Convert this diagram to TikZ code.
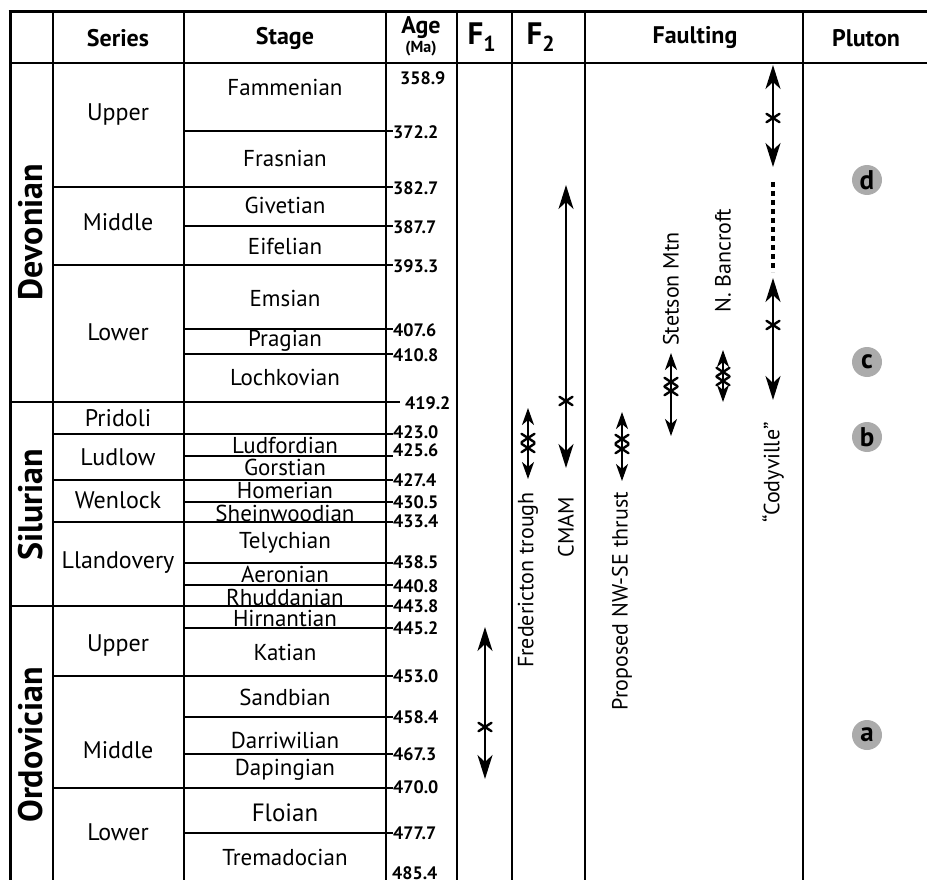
\documentclass[tikz,border=0pt]{standalone}
\usepackage{fontspec}
\setmainfont{PT Sans}
\usetikzlibrary{arrows.meta}
\begin{document}
\begin{tikzpicture}[x=1pt,y=-1pt,
  thickln/.style={line width=3pt},
  colln/.style={line width=2.3pt},
  perln/.style={line width=2.6pt},
  thinln/.style={line width=1.3pt},
  hdr/.style={font=\bfseries\fontsize{24}{26}\selectfont, inner sep=0pt},
  stg/.style={font=\fontsize{23}{25}\selectfont, inner sep=0pt},
  ser/.style={font=\fontsize{24}{26}\selectfont, inner sep=0pt},
  per/.style={font=\bfseries\fontsize{34}{36}\selectfont, inner sep=0pt, rotate=90},
  agel/.style={font=\bfseries\fontsize{18}{19}\selectfont, inner sep=0pt, anchor=west},
  lab/.style={font=\fontsize{22}{24}\selectfont, inner sep=0pt, rotate=90},
  bigarrow/.style={line width=2.2pt, {Stealth[length=24pt,width=15pt,inset=7pt]}-{Stealth[length=24pt,width=15pt,inset=7pt]}},
  smallarrow/.style={line width=2.2pt, {Stealth[length=17pt,width=12pt,inset=5pt]}-{Stealth[length=17pt,width=12pt,inset=5pt]}},
  astr/.pic={\draw[line width=2.4pt, line cap=round] (-6.5,-4.2)--(6.5,4.2) (-6.5,4.2)--(6.5,-4.2);},
  pluton/.style={circle, fill=black!33, inner sep=0pt, minimum size=30pt, font=\bfseries\fontsize{27}{27}\selectfont}
]
\useasboundingbox (0,0) rectangle (927,880);
% ---- grid ----
\foreach \x in {53,184,386,457,512,585,803} \draw[colln] (\x,12) -- (\x,880);
\draw[thickln] (10,10.5) -- (10,880);
\draw[thickln] (8.5,12) -- (927,12);
\draw[perln] (10,63) -- (927,63);
% stage boundaries
\foreach \y in {131,226,329,354,456,502,563,585,628,717,754,833} \draw[thinln] (184,\y) -- (393,\y);
% series boundaries
\foreach \y in {187,265,434,480,522,676,788} \draw[thinln] (53,\y) -- (393,\y);
% period boundaries
\draw[perln] (10,402) -- (386,402);
\draw[thinln] (386,402) -- (400,402);
\draw[perln] (10,606) -- (386,606);
\draw[thinln] (386,606) -- (393,606);
% ---- header ----
\node[hdr] (hser) at (118,38) {Series};
\node[hdr] (hstg) at (285,38) {Stage};
\node[hdr, font=\bfseries\fontsize{24}{24}\selectfont] (hage) at (421,28) {Age};
\node[hdr, font=\bfseries\fontsize{16}{16}\selectfont] (hma) at (421,49) {(Ma)};
\node[hdr, font=\bfseries\fontsize{31}{31}\selectfont] (hf1) at (482,37) {F\textsubscript{1}};
\node[hdr, font=\bfseries\fontsize{31}{31}\selectfont] (hf2) at (541,37) {F\textsubscript{2}};
\node[hdr] (hflt) at (695,38) {Faulting};
\node[hdr] (hplu) at (866,38) {Pluton};
% ---- periods ----
\node[per] (pdev) at (31,232) {Devonian};
\node[per] (psil) at (31,505) {Silurian};
\node[per] (pord) at (31,745) {Ordovician};
% ---- series ----
\node[ser] (s1) at (118,115) {Upper};
\node[ser] (s2) at (118,222) {Middle};
\node[ser] (s3) at (118,332) {Lower};
\node[ser] (s4) at (118,418) {Pridoli};
\node[ser] (s5) at (118,457) {Ludlow};
\node[ser] (s6) at (118,500) {Wenlock};
\node[ser] (s7) at (118,563) {Llandovery};
\node[ser] (s8) at (118,645) {Upper};
\node[ser] (s9) at (118,750) {Middle};
\node[ser] (s10) at (118,832) {Lower};
% ---- stages ----
\node[stg] (t1) at (285,87) {Fammenian};
\node[stg] (t2) at (285,158) {Frasnian};
\node[stg] (t3) at (285,205) {Givetian};
\node[stg] (t4) at (285,246) {Eifelian};
\node[stg] (t5) at (285,298) {Emsian};
\node[stg] (t6) at (285,341) {Pragian};
\node[stg] (t7) at (285,377) {Lochkovian};
\node[stg] (t8) at (285,445) {Ludfordian};
\node[stg] (t9) at (285,467) {Gorstian};
\node[stg] (t10) at (285,490) {Homerian};
\node[stg] (t11) at (285,513) {Sheinwoodian};
\node[stg] (t12) at (285,543) {Telychian};
\node[stg] (t13) at (285,574) {Aeronian};
\node[stg] (t14) at (285,597) {Rhuddanian};
\node[stg] (t15) at (285,618) {Hirnantian};
\node[stg] (t16) at (285,652) {Katian};
\node[stg] (t17) at (285,697) {Sandbian};
\node[stg] (t18) at (285,740) {Darriwilian};
\node[stg] (t19) at (285,770) {Dapingian};
\node[stg, font=\fontsize{25}{27}\selectfont] (t20) at (285,813) {Floian};
\node[stg] (t21) at (285,857) {Tremadocian};
% ---- ages ----
\node[agel] (a1) at (400,78) {358.9};
\node[agel] (a2) at (393,132) {372.2};
\node[agel] (a3) at (393,188) {382.7};
\node[agel] (a4) at (393,227) {387.7};
\node[agel] (a5) at (393,266) {393.3};
\node[agel] (a6) at (393,330) {407.6};
\node[agel] (a7) at (393,355) {410.8};
\node[agel] (a8) at (405,403) {419.2};
\node[agel] (a9) at (393,432) {423.0};
\node[agel] (a10) at (393,450.5) {425.6};
\node[agel] (a11) at (393,480) {427.4};
\node[agel] (a12) at (393,502) {430.5};
\node[agel] (a13) at (393,521) {433.4};
\node[agel] (a14) at (393,562) {438.5};
\node[agel] (a15) at (393,586) {440.8};
\node[agel] (a16) at (393,606) {443.8};
\node[agel] (a17) at (393,628) {445.2};
\node[agel] (a18) at (393,676) {453.0};
\node[agel] (a19) at (393,717) {458.4};
\node[agel] (a20) at (393,754) {467.3};
\node[agel] (a21) at (393,787) {470.0};
\node[agel] (a22) at (393,833) {477.7};
\node[agel] (a23) at (392,873) {485.4};
% ---- F1 ----
\coordinate (f1t) at (485,627);
\coordinate (f1b) at (485,779);
\draw[bigarrow] (f1t) -- (f1b);
\pic at (485,727) {astr};
% ---- F2 ----
\coordinate (frt) at (528,408);
\coordinate (frb) at (528,479);
\draw[smallarrow] (frt) -- (frb);
\pic at (528,438) {astr}; \pic at (528,448) {astr};
\node[lab, anchor=east] (frl) at (528,492) {Fredericton trough};
\coordinate (cmt) at (566,185);
\coordinate (cmb) at (566,468);
\draw[bigarrow] (cmt) -- (cmb);
\pic at (566,401) {astr};
\node[lab, anchor=east] (cml) at (566,497) {CMAM};
% ---- Faulting ----
\coordinate (nwt) at (622,412);
\coordinate (nwb) at (622,481);
\draw[smallarrow] (nwt) -- (nwb);
\pic at (622,439) {astr}; \pic at (622,449) {astr};
\node[lab, anchor=east] (nwl) at (622,492) {Proposed NW-SE thrust};
\coordinate (stt) at (671,353);
\coordinate (stb) at (671,436);
\draw[smallarrow] (stt) -- (stb);
\pic at (671,382) {astr}; \pic at (671,391) {astr};
\node[lab, anchor=west] (stl) at (671,346) {Stetson Mtn};
\coordinate (nbt) at (723,350);
\coordinate (nbb) at (723,402);
\draw[smallarrow] (nbt) -- (nbb);
\pic at (723,372) {astr}; \pic at (723,381) {astr};
\node[lab, anchor=west] (nbl) at (723,313) {N. Bancroft};
\coordinate (cu1) at (773,65);
\coordinate (cu2) at (773,167);
\draw[bigarrow] (cu1) -- (cu2);
\pic at (773,118) {astr};
\coordinate (cd1) at (773,182);
\coordinate (cd2) at (773,272);
\draw[line width=3.5pt, dash pattern=on 5pt off 4pt] (cd1) -- (cd2);
\coordinate (cl1) at (773,278);
\coordinate (cl2) at (773,400);
\draw[bigarrow] (cl1) -- (cl2);
\pic at (773,325) {astr};
\node[lab, anchor=east] (cdl) at (773,422) {“Codyville”};
% ---- Pluton ----
\node[pluton] (pd) at (867,180) {d};
\node[pluton] (pc) at (867,362) {c};
\node[pluton] (pb) at (867,437) {b};
\node[pluton] (pa) at (867,735) {a};
\end{tikzpicture}
\end{document}
